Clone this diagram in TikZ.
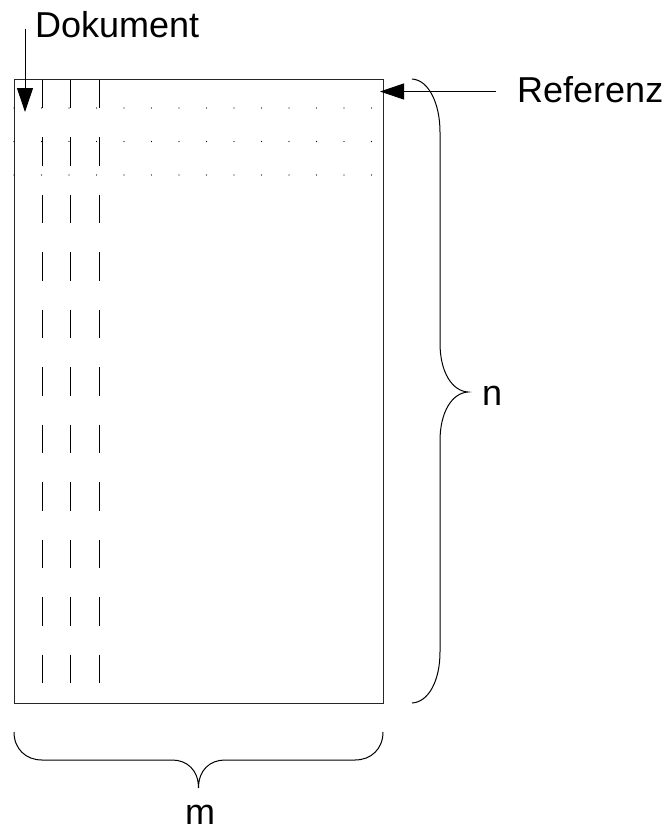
\documentclass[tikz,border=0pt]{standalone}
\usepackage{fontspec}
\setmainfont{Liberation Sans}
\usetikzlibrary{arrows.meta}
\begin{document}
\begin{tikzpicture}[x=1pt,y=-1pt,
  lbl/.style={inner sep=0pt,font=\fontsize{36}{43}\selectfont},
  thin line/.style={line width=1pt,black!85},
  col line/.style={line width=1pt,black,dash pattern=on 28.5pt off 29pt},
  bigarrow/.style={line width=1pt,-{Triangle[length=24pt,width=16pt]}},
  brace line/.style={line width=1pt,black}]
\useasboundingbox (0,0) rectangle (665,831);
% matrix rectangle
\draw[thin line] (14,79) rectangle (383,703);
% column (document) lines
\foreach \x in {42,70.5,99}
  \draw[col line] (\x,79.5) -- (\x,684);
% reference rows (dotted)
\foreach \y in {108,141.5,175}
  \foreach \k in {0,...,13}
    \fill ({14+27.5*\k},\y) circle (0.7pt);
% labels
\node[lbl,anchor=base west] (dok) at (35,37) {Dokument};
\node[lbl,anchor=base west] (ref) at (517,102) {Referenz};
\node[lbl,anchor=base west] (n) at (482,405) {n};
\node[lbl,anchor=base] (m) at (200,824) {m};
% arrows
\coordinate (dokstart) at (25,29);
\coordinate (doktip) at (25,112);
\draw[bigarrow] (dokstart) -- (doktip);
\coordinate (refstart) at (496,91.5);
\coordinate (reftip) at (380,91.5);
\draw[bigarrow] (refstart) -- (reftip);
% right brace (n)
\coordinate (ntip) at (468,392);
\draw[brace line] (412,79) .. controls (429,80) and (440,104) .. (440,132)
  -- (440,343) .. controls (440,372) and (452,391) .. (ntip)
  .. controls (452,393) and (440,412) .. (440,441)
  -- (440,652) .. controls (440,680) and (429,702) .. (412,703);
% bottom brace (m)
\coordinate (mtip) at (198.5,788);
\draw[brace line] (14,732) .. controls (14,749) and (26,760) .. (42,760)
  -- (172,760) .. controls (187,760) and (198.5,770) .. (mtip)
  .. controls (198.5,770) and (210,760) .. (225,760)
  -- (355,760) .. controls (371,760) and (383,749) .. (383,732);
\end{tikzpicture}
\end{document}
